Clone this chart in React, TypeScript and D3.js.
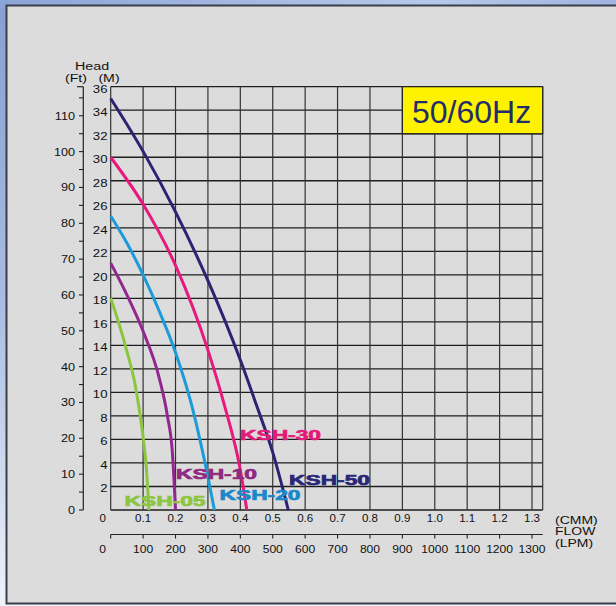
import React from 'react';
import * as d3 from 'd3';

// pump curves, [flow (CMM), head (M)]
const ksh05 = [[0, 18], [0.025, 15.9], [0.05, 13.5], [0.075, 10.7], [0.09, 8.2], [0.1, 6.2], [0.11, 3.6], [0.118, 0]];
const ksh10 = [[0, 21], [0.05, 18.3], [0.1, 15.2], [0.15, 11.2], [0.175, 8], [0.19, 5], [0.2, 0]];
const ksh20 = [[0, 25], [0.05, 22.7], [0.1, 20], [0.15, 16.9], [0.2, 13.4], [0.25, 8.9], [0.3, 2.8], [0.32, 0]];
const ksh30 = [[0, 30], [0.1, 26], [0.2, 20.8], [0.3, 13.6], [0.35, 9], [0.4, 3.4], [0.42, 0]];
const ksh50 = [[0, 35], [0.1, 30.5], [0.2, 25.35], [0.3, 19.5], [0.4, 12.75], [0.45, 8.9], [0.5, 4.9], [0.548, 0]];

const seriesNames = ['KSH-05', 'KSH-10', 'KSH-20', 'KSH-30', 'KSH-50'];
const seriesData = [ksh05, ksh10, ksh20, ksh30, ksh50];

const flowTicks = [0.1, 0.2, 0.3, 0.4, 0.5, 0.6, 0.7, 0.8, 0.9, 1.0, 1.1, 1.2, 1.3];
const lpmTicks = [100, 200, 300, 400, 500, 600, 700, 800, 900, 1000, 1100, 1200, 1300];
const headTicks = [2, 4, 6, 8, 10, 12, 14, 16, 18, 20, 22, 24, 26, 28, 30, 32, 34, 36];
const feetLabels = [0, 10, 20, 30, 40, 50, 60, 70, 80, 90, 100, 110];

const colors = ['#8cc63f', '#92278f', '#1b9bd8', '#e8197c', '#2c2372'];
const labelColors = ['#8cc63f', '#8e2a82', '#1a88c9', '#e5197a', '#2b2575'];
// label anchor: [left x, baseline y] in px
const labelPos = [[124.5, 506], [176, 478.5], [219.5, 500], [240, 440], [289, 485]];

const FT_PER_M = 3.28084;
const font = '"Liberation Sans", Arial, sans-serif';

const Stretch = ({ x, y, sx = 1, anchor = 'start', size = 11, children, fill = '#111' }: any) => (
  <text transform={`translate(${x},${y}) scale(${sx},1)`} textAnchor={anchor} fontSize={size}
    fontFamily={font} fill={fill}>{children}</text>
);

export default function App() {
  const x = d3.scaleLinear().domain([0, 1.3]).range([110.7, 532]);
  const y = d3.scaleLinear().domain([0, 36]).range([510, 86.7]);
  const yFt = d3.scaleLinear().domain([0, 36 * FT_PER_M]).range([510, 86.7]);
  const right = x(1.333);

  const line = d3.line<number[]>()
    .x(d => x(d[0]))
    .y(d => y(d[1]))
    .curve(d3.curveMonotoneX);

  const vGrid = [0, ...flowTicks];
  const hGrid = [0, ...headTicks];
  const ftMinor = d3.range(0, 36 * FT_PER_M, 5);
  const lpmAxisY = 534.5;

  return (
    <svg width={616} height={606} style={{ position: 'absolute', left: 0, top: 0 }}>
      <defs>
        <linearGradient id="side" x1="0" y1="0" x2="0" y2="1">
          <stop offset="0" stopColor="#86a0d2" />
          <stop offset="0.5" stopColor="#a9bce2" />
          <stop offset="1" stopColor="#eef2fa" />
        </linearGradient>
        <linearGradient id="top" x1="0" y1="0" x2="1" y2="0">
          <stop offset="0" stopColor="#8ba4d6" />
          <stop offset="0.7" stopColor="#b7c9ea" />
          <stop offset="1" stopColor="#9fb5e0" />
        </linearGradient>
      </defs>
      <rect x={0} y={0} width={616} height={606} fill="url(#side)" />
      <rect x={0} y={0} width={616} height={8} fill="url(#top)" />
      <rect x={6.5} y={5.5} width={620} height={598} fill="#dcdcdc" stroke="#3a3e48" strokeWidth={2} />

      {/* grid */}
      {hGrid.map(h => (
        <line key={'h' + h} x1={x(0)} x2={right} y1={y(h)} y2={y(h)} stroke="#1e1e1e" strokeWidth={1.3} />
      ))}
      {vGrid.map(f => (
        <line key={'v' + f} x1={x(f)} x2={x(f)} y1={y(0)} y2={y(36)} stroke="#333" strokeWidth={1.2} />
      ))}
      <line x1={right} x2={right} y1={y(0)} y2={y(36)} stroke="#333" strokeWidth={1.2} />

      {/* frequency box */}
      <rect x={x(0.9)} y={y(36)} width={right - x(0.9)} height={y(32) - y(36)} fill="#fff200" stroke="#222" strokeWidth={1.2} />
      <text x={(x(0.9) + right) / 2 - 1} y={122.5} textAnchor="middle" fontSize={32} fontFamily={font} fill="#1f2d6a">50/60Hz</text>

      {/* curves */}
      {seriesData.map((s, i) => (
        <path key={seriesNames[i]} d={line(s) || ''} fill="none" stroke={colors[i]} strokeWidth={3} />
      ))}
      {seriesNames.map((n, i) => (
        <text key={'l' + n} x={labelPos[i][0]} y={labelPos[i][1]} fontSize={15} fontWeight="bold" fontFamily={font}
          fill={labelColors[i]} stroke={labelColors[i]} strokeWidth={0.7}
          textLength={81} lengthAdjust="spacingAndGlyphs">{n}</text>
      ))}

      {/* head (M) labels */}
      {headTicks.map(h => (
        <Stretch key={'m' + h} x={107.5} y={y(h) + 6} sx={1.2} anchor="end">{h}</Stretch>
      ))}

      {/* head (Ft) axis */}
      <line x1={83.3} x2={83.3} y1={y(0)} y2={y(36)} stroke="#222" strokeWidth={1.2} />
      <line x1={77} x2={83.3} y1={y(36)} y2={y(36)} stroke="#222" strokeWidth={1.2} />
      {ftMinor.map(f => (
        <line key={'ft' + f} x1={79} x2={83.3} y1={yFt(f)} y2={yFt(f)} stroke="#222" strokeWidth={1.1} />
      ))}
      {feetLabels.map(f => (
        <Stretch key={'fl' + f} x={75} y={yFt(f) + 4} sx={1.15} anchor="end">{f}</Stretch>
      ))}

      <Stretch x={92} y={70} sx={1.3} anchor="middle">Head</Stretch>
      <Stretch x={76} y={82} sx={1.35} size={10.5} anchor="middle">(Ft)</Stretch>
      <Stretch x={109} y={82} sx={1.35} size={10.5} anchor="middle">(M)</Stretch>

      {/* flow CMM labels */}
      <Stretch x={102.7} y={522} anchor="middle" sx={1.05}>0</Stretch>
      {flowTicks.map(f => (
        <Stretch key={'c' + f} x={x(f)} y={522} anchor="middle" sx={1.05}>{f.toFixed(1)}</Stretch>
      ))}

      {/* flow LPM axis */}
      <line x1={x(0)} x2={right} y1={lpmAxisY} y2={lpmAxisY} stroke="#222" strokeWidth={1.2} />
      {[0, ...lpmTicks].map(l => (
        <line key={'lt' + l} x1={x(l / 1000)} x2={x(l / 1000)} y1={lpmAxisY} y2={lpmAxisY + 4} stroke="#222" strokeWidth={1.1} />
      ))}
      <Stretch x={102.7} y={552.5} anchor="middle" sx={1.1}>0</Stretch>
      {lpmTicks.map(l => (
        <Stretch key={'lp' + l} x={x(l / 1000)} y={552.5} anchor="middle" sx={1.1}>{l}</Stretch>
      ))}

      <Stretch x={555} y={524} sx={1.4} size={10}>(CMM)</Stretch>
      <Stretch x={555} y={534.5} sx={1.4} size={10}>FLOW</Stretch>
      <Stretch x={555} y={547} sx={1.4} size={10}>(LPM)</Stretch>
    </svg>
  );
}
